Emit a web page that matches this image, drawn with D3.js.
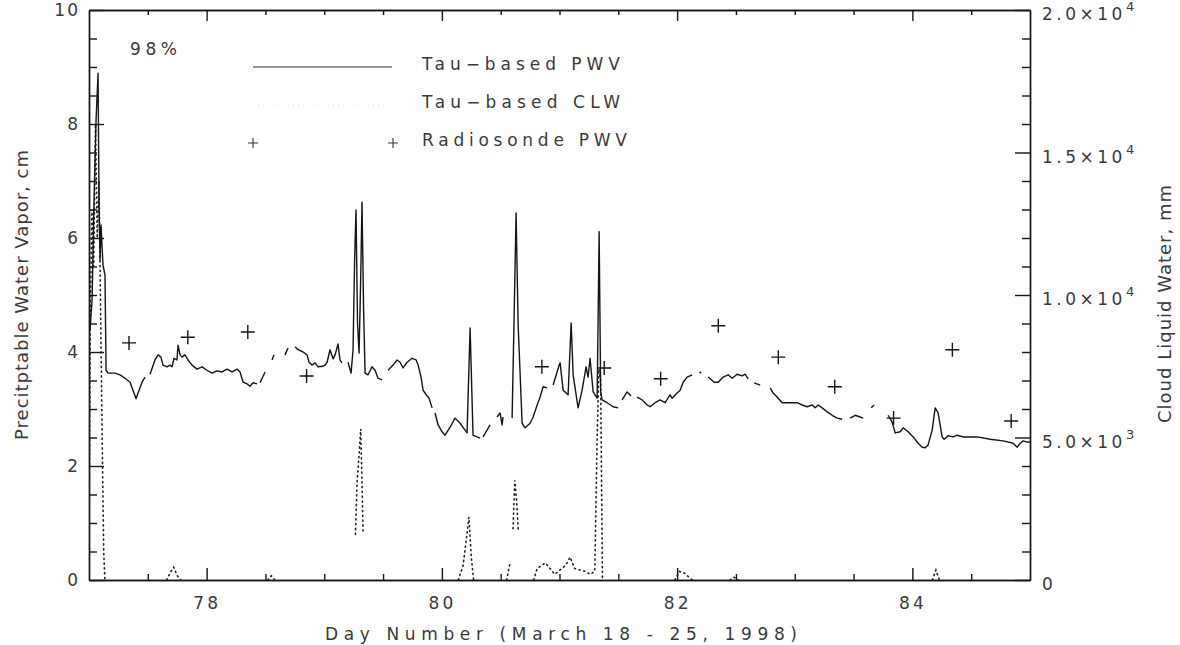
<!DOCTYPE html>
<html><head><meta charset="utf-8">
<script src="https://cdn.jsdelivr.net/npm/d3@7"></script>
<style>
html,body{margin:0;padding:0;background:#fff;}
svg text{font-family:"DejaVu Sans",sans-serif;fill:#3a3a3a;}
</style></head><body><svg id="c" width="1180" height="645"></svg>
<script>
// ---------------- DATA ----------------
const xMajorTicks = [78, 80, 82, 84];
const xMinorTicks = [77.5, 78.5, 79, 79.5, 80.5, 81, 81.5, 82.5, 83, 83.5, 84.5];
const yLeftMajor = [0, 2, 4, 6, 8, 10];
const yLeftMinor = [0.5, 1, 1.5, 2.5, 3, 3.5, 4.5, 5, 5.5, 6.5, 7, 7.5, 8.5, 9, 9.5];
const yRightMajor = [0, 5000, 10000, 15000, 20000];
const yRightMinor = [1000, 2000, 3000, 4000, 6000, 7000, 8000, 9000, 11000, 12000, 13000, 14000, 16000, 17000, 18000, 19000];
const yRightMantissa = ["0", "5.0", "1.0", "1.5", "2.0"];
const yRightExponent = ["", "3", "4", "4", "4"];

// Tau-based PWV (cm), segments separated by data gaps: [day, cm]
const pwvSegments = [
 [[77.009,4.39],[77.026,4.91],[77.043,6.67],[77.060,8.07],[77.077,8.89],[77.085,6.67],[77.094,5.61],[77.102,6.23],
  [77.119,5.53],[77.136,5.35],[77.145,3.68],[77.162,3.63],[77.221,3.63],[77.264,3.60],[77.306,3.54],[77.349,3.47],
  [77.374,3.33],[77.400,3.18],[77.417,3.28],[77.451,3.47],[77.476,3.56]],
 [[77.519,3.61],[77.561,3.86],[77.587,3.95],[77.612,3.91],[77.629,3.77],[77.663,3.74],[77.689,3.77],[77.706,3.74],
  [77.723,3.89],[77.748,3.86],[77.757,4.12],[77.774,3.95],[77.791,3.91],[77.816,3.95],[77.842,3.86],[77.876,3.77],
  [77.918,3.70],[77.961,3.74],[78.003,3.68],[78.046,3.63],[78.088,3.67],[78.131,3.65],[78.173,3.70],[78.216,3.65],
  [78.259,3.70],[78.284,3.65],[78.310,3.47],[78.344,3.44],[78.369,3.40],[78.395,3.46],[78.429,3.44]],
 [[78.454,3.46],[78.497,3.65]],
 [[78.556,3.86],[78.573,3.95]],
 [[78.667,3.95],[78.692,4.07]],
 [[78.752,4.09],[78.777,4.04],[78.820,4.00],[78.854,3.95],[78.871,3.82],[78.896,3.77],[78.922,3.81],[78.947,3.74],
  [78.990,3.75],[79.007,3.77],[79.024,3.82],[79.049,4.04],[79.075,3.88],[79.092,3.95],[79.117,4.14],[79.134,3.86],[79.150,3.81]],
 [[79.202,3.82],[79.228,3.63],[79.245,4.04],[79.258,5.60],[79.270,6.49],[79.283,4.50],[79.296,3.98],[79.309,5.20],
  [79.321,6.63],[79.334,4.80],[79.347,3.63],[79.372,3.60],[79.406,3.74],[79.432,3.68],[79.457,3.54],[79.491,3.51]],
 [[79.543,3.68],[79.585,3.77],[79.619,3.86],[79.645,3.82],[79.670,3.72],[79.704,3.82],[79.747,3.89],[79.781,3.86],
  [79.798,3.77],[79.823,3.56],[79.840,3.33],[79.866,3.25],[79.891,3.19],[79.917,3.02]],
 [[79.942,2.93],[79.968,2.72],[80.002,2.60],[80.027,2.54],[80.070,2.68],[80.112,2.84],[80.155,2.75],[80.197,2.63],
  [80.214,2.58],[80.240,4.42],[80.265,2.54],[80.299,2.51],[80.325,2.49]],
 [[80.350,2.51],[80.410,2.72]],
 [[80.469,2.86],[80.495,2.93],[80.512,2.72],[80.520,2.86]],
 [[80.597,2.84],[80.614,4.60],[80.631,6.44],[80.648,4.50],[80.682,2.75],[80.707,2.67],[80.750,2.75],[80.776,2.86],
  [80.810,3.07],[80.835,3.21],[80.861,3.39],[80.895,3.37]],
 [[80.946,3.42],[80.997,3.77],[81.005,3.81],[81.031,3.33],[81.073,3.25],[81.099,4.51],[81.116,3.60],[81.158,3.02],
  [81.192,3.33],[81.226,3.74],[81.243,3.56],[81.260,3.89],[81.286,3.30],[81.320,3.19],[81.337,6.11],[81.350,3.30],
  [81.362,3.16],[81.405,3.11],[81.456,3.04],[81.498,3.02]],
 [[81.532,3.16],[81.575,3.30],[81.609,3.23]],
 [[81.660,3.21],[81.702,3.16],[81.745,3.07],[81.770,3.04],[81.813,3.11],[81.855,3.16],[81.898,3.11],[81.940,3.25],
  [81.957,3.19],[82.000,3.28],[82.026,3.33],[82.051,3.47],[82.085,3.56],[82.128,3.60]],
 [[82.190,3.65],[82.205,3.63]],
 [[82.264,3.56],[82.315,3.47],[82.349,3.47],[82.391,3.56],[82.434,3.60],[82.468,3.54],[82.510,3.61],[82.553,3.58],
  [82.578,3.61],[82.604,3.53]],
 [[82.655,3.46],[82.706,3.42]],
 [[82.791,3.37],[82.816,3.28],[82.850,3.21],[82.893,3.11],[82.944,3.11],[82.986,3.11],[83.020,3.11],[83.063,3.07],
  [83.105,3.04],[83.148,3.07],[83.173,3.02],[83.199,3.07],[83.233,3.02],[83.276,2.95],[83.318,2.89],[83.361,2.84],[83.403,2.82]],
 [[83.471,2.84],[83.514,2.89],[83.556,2.86],[83.582,2.84]],
 [[83.650,3.02],[83.675,3.07]],
 [[83.794,2.89],[83.828,2.77],[83.854,2.58],[83.896,2.60],[83.922,2.67],[83.964,2.60],[84.007,2.51],[84.049,2.40],
  [84.083,2.33],[84.109,2.32],[84.134,2.37],[84.168,2.63],[84.194,3.02],[84.219,2.93],[84.253,2.51],[84.270,2.47],
  [84.304,2.53],[84.347,2.51],[84.381,2.54],[84.432,2.51],[84.551,2.51],[84.662,2.47],[84.772,2.44],[84.857,2.40],
  [84.891,2.33],[84.917,2.40],[84.942,2.44],[84.976,2.42],[85.000,2.42]]
];

// Tau-based CLW (right axis units), segments: [day, value]
const clwSegments = [
 [[77.000,0],[77.010,9000],[77.025,13000],[77.040,11000],[77.055,16000],[77.070,12000],[77.085,14000],[77.100,9000],
  [77.115,4000],[77.125,1000],[77.135,0]],
 [[77.660,0],[77.690,250],[77.720,450],[77.750,150],[77.780,0]],
 [[78.520,0],[78.550,150],[78.580,0]],
 [[79.265,1600],[79.280,3500],[79.295,4300],[79.310,5300],[79.320,3600],[79.330,1700]],
 [[80.140,0],[80.180,500],[80.210,1500],[80.230,2200],[80.250,800],[80.270,0]],
 [[80.550,0],[80.580,600]],
 [[80.605,1800],[80.620,3500],[80.635,2800],[80.650,1700]],
 [[80.780,0],[80.810,400],[80.880,600],[80.960,200],[81.050,500],[81.090,800],[81.130,400],[81.220,300],[81.260,200],
  [81.300,300],[81.320,5000],[81.335,7400],[81.350,7000],[81.365,0]],
 [[81.980,0],[82.020,300],[82.060,250],[82.100,100],[82.130,0]],
 [[82.450,0],[82.480,100],[82.520,0]],
 [[84.170,0],[84.200,350],[84.230,0]]
];

// Radiosonde PWV (cm)
const sondeDay = [77.34, 77.84, 78.35, 78.85, 80.85, 81.38, 81.86, 82.35, 82.86, 83.34, 83.84, 84.34, 84.84];
const sondePwv = [4.16, 4.26, 4.35, 3.58, 3.74, 3.72, 3.53, 4.46, 3.91, 3.39, 2.84, 4.04, 2.79];

const legendLabels = ["Tau\u2212based PWV", "Tau\u2212based CLW", "Radiosonde PWV"];

// ---------------- CHART ----------------
const svg = d3.select("#c");
svg.append("rect").attr("width",1180).attr("height",645).attr("fill","#fff");

const x = d3.scaleLinear().domain([77, 85]).range([89, 1030]);
const yL = d3.scaleLinear().domain([0, 10]).range([580, 10]);
const yR = d3.scaleLinear().domain([0, 20000]).range([580, 10]);

const ink = "#151515";
function style(g, fs){
  g.selectAll("path,line").attr("stroke", ink).attr("stroke-width", 1.4);
  g.selectAll("text").attr("fill","#3a3a3a").attr("font-size", fs||17)
    .attr("font-family","'DejaVu Sans',sans-serif");
  g.attr("font-family", null).attr("font-size", null);
}

// bottom
style(svg.append("g").attr("transform","translate(0,580)")
  .call(d3.axisBottom(x).tickValues(xMinorTicks).tickSize(-6).tickSizeOuter(0).tickFormat("")));
const gb = svg.append("g").attr("transform","translate(0,580)")
  .call(d3.axisBottom(x).tickValues(xMajorTicks).tickSize(-12).tickSizeOuter(0).tickPadding(17).tickFormat(d3.format("d")));
style(gb); gb.selectAll("text").attr("letter-spacing", 3);
// top
style(svg.append("g").attr("transform","translate(0,10)")
  .call(d3.axisTop(x).tickValues(xMinorTicks).tickSize(-5).tickSizeOuter(0).tickFormat("")));
style(svg.append("g").attr("transform","translate(0,10)")
  .call(d3.axisTop(x).tickValues(xMajorTicks).tickSize(-11).tickSizeOuter(0).tickFormat("")));
// left
style(svg.append("g").attr("transform","translate(89,0)")
  .call(d3.axisLeft(yL).tickValues(yLeftMinor).tickSize(-8).tickSizeOuter(0).tickFormat("")));
const gl = svg.append("g").attr("transform","translate(89,0)")
  .call(d3.axisLeft(yL).tickValues(yLeftMajor).tickSize(-15).tickSizeOuter(0).tickPadding(9).tickFormat(d3.format("d")));
style(gl); gl.selectAll("text").attr("letter-spacing", 2);
// right
style(svg.append("g").attr("transform","translate(1030,0)")
  .call(d3.axisRight(yR).tickValues(yRightMinor).tickSize(-8).tickSizeOuter(0).tickFormat("")));
style(svg.append("g").attr("transform","translate(1030,0)")
  .call(d3.axisRight(yR).tickValues(yRightMajor).tickSize(-15).tickSizeOuter(0).tickFormat("")));

const rl = svg.append("g");
yRightMajor.forEach((v,i)=>{
  const t = rl.append("text").attr("x", 1042).attr("y", yR(v) + 10)
    .attr("font-size", 17).attr("letter-spacing", 3.5);
  if (yRightExponent[i] === "") { t.text(yRightMantissa[i]); return; }
  t.append("tspan").text(yRightMantissa[i] + "\u00d710");
  t.append("tspan").attr("dy", -9).attr("font-size", 13).attr("letter-spacing", 0).text(yRightExponent[i]);
});

// clip
svg.append("clipPath").attr("id","plot").append("rect").attr("x",89).attr("y",10).attr("width",941).attr("height",570);
const plot = svg.append("g").attr("clip-path","url(#plot)");

// CLW dotted
const clwLine = d3.line().x(d=>x(d[0])).y(d=>yR(d[1]));
plot.selectAll("path.clw").data(clwSegments).join("path").attr("class","clw")
  .attr("d", clwLine).attr("fill","none").attr("stroke","#222").attr("stroke-width",1.6)
  .attr("stroke-dasharray","1.2,3.6").attr("stroke-linecap","round");

// PWV line
const pwvLine = d3.line().x(d=>x(d[0])).y(d=>yL(d[1]));
plot.selectAll("path.pwv").data(pwvSegments).join("path").attr("class","pwv")
  .attr("d", pwvLine).attr("fill","none").attr("stroke", ink).attr("stroke-width",1.4)
  .attr("stroke-linejoin","round");

// radiosonde plus
const plus = "M-7,0H7M0,-7V7";
plot.selectAll("path.sonde").data(sondeDay).join("path").attr("class","sonde")
  .attr("transform",(d,i)=>`translate(${x(d)},${yL(sondePwv[i])})`)
  .attr("d", plus).attr("stroke", ink).attr("stroke-width",1.4);

// legend
const lg = svg.append("g");
lg.append("line").attr("x1",253).attr("x2",392).attr("y1",67).attr("y2",67).attr("stroke","#333").attr("stroke-width",1.2);
lg.append("line").attr("x1",253).attr("x2",392).attr("y1",105).attr("y2",105).attr("stroke","#e4e4e4")
  .attr("stroke-width",1).attr("stroke-dasharray","1,4");
[253, 393].forEach(px => lg.append("path").attr("transform",`translate(${px},143)`).attr("d","M-5,0H5M0,-5V5")
  .attr("stroke","#333").attr("stroke-width",1.1));
const legY = [70, 108, 146];
const legW = [198, 198, 205];
legendLabels.forEach((s,i)=>{
  lg.append("text").attr("x",422).attr("y",legY[i]).attr("font-size",17)
    .attr("textLength", legW[i]).attr("lengthAdjust","spacing").text(s);
});

// annotation
svg.append("text").attr("x",130).attr("y",55).attr("font-size",17).attr("textLength",47)
  .attr("lengthAdjust","spacing").text("98%");

// axis titles
svg.append("text").attr("transform","translate(28,295) rotate(-90)").attr("text-anchor","middle")
  .attr("font-size",18).attr("textLength",290).attr("lengthAdjust","spacing").text("Precitptable Water Vapor, cm");
svg.append("text").attr("transform","translate(1171,304) rotate(-90)").attr("text-anchor","middle")
  .attr("font-size",18).attr("textLength",238).attr("lengthAdjust","spacing").text("Cloud Liquid Water, mm");
svg.append("text").attr("x",561).attr("y",640).attr("text-anchor","middle")
  .attr("font-size",17).attr("textLength",472).attr("lengthAdjust","spacing").text("Day Number (March 18 - 25, 1998)");
</script></body></html>
